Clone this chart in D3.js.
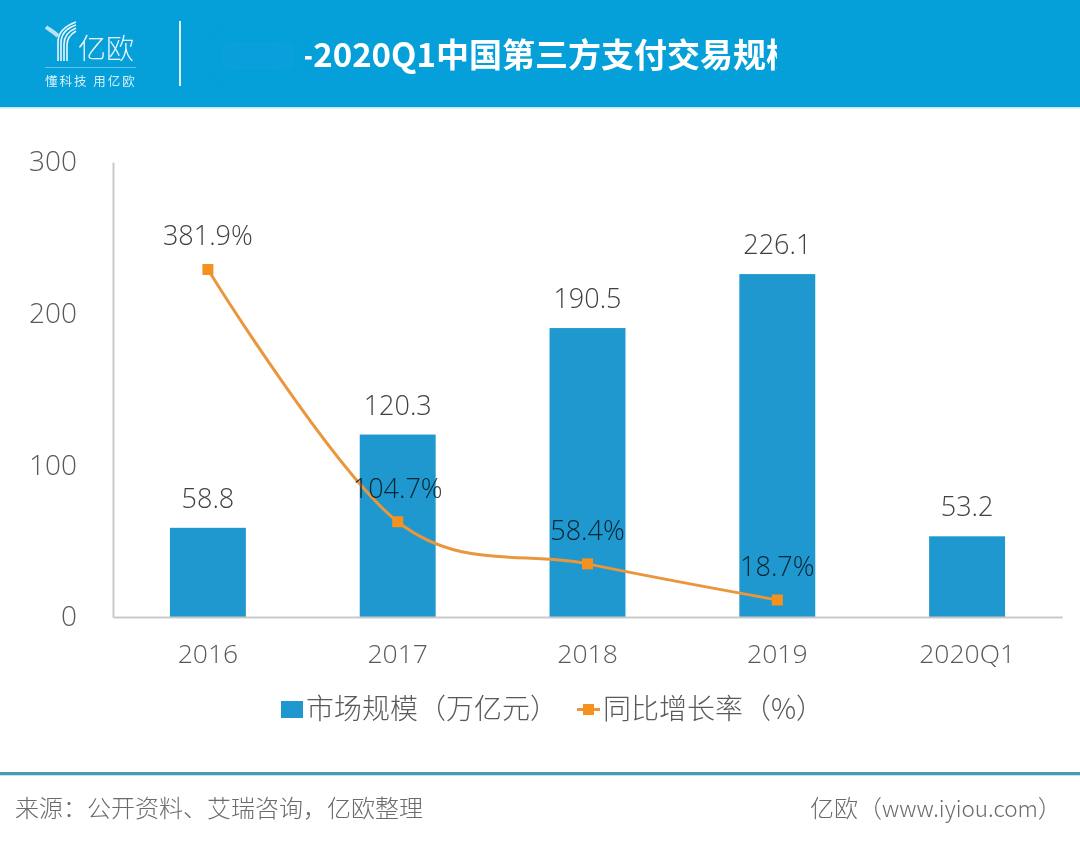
<!DOCTYPE html>
<html>
<head>
<meta charset="utf-8">
<script src="https://cdnjs.cloudflare.com/ajax/libs/d3/7.8.5/d3.min.js"></script>
<style>
html, body { margin: 0; padding: 0; background: #fff; }
svg { display: block; }
text { font-family: "Open Sans", "Noto Sans CJK SC", sans-serif; }
.cjk { font-family: "Noto Sans CJK SC", sans-serif; }
</style>
</head>
<body>
<script>
const years = ["2016", "2017", "2018", "2019", "2020Q1"];
const market = [58.8, 120.3, 190.5, 226.1, 53.2];
const growth = [381.9, 104.7, 58.4, 18.7];
const yTicks = [0, 100, 200, 300];
const legendBar = "市场规模（万亿元）";
const legendLine = "同比增长率（%）";

const width = 1080, height = 843;
const blue = "#1f97cf", orange = "#e9963c";

const svg = d3.select("body").append("svg")
  .attr("width", width)
  .attr("height", height);

const defs = svg.append("defs");
defs.append("clipPath").attr("id", "title-clip")
  .append("rect").attr("x", 305).attr("y", 20).attr("width", 472).attr("height", 70);
defs.append("filter").attr("id", "soft")
  .attr("x", "-30%").attr("y", "-60%").attr("width", "160%").attr("height", "220%")
  .append("feGaussianBlur").attr("stdDeviation", 8);

// header band
svg.append("rect").attr("width", width).attr("height", 107).attr("fill", "#05a0d9");
svg.append("rect").attr("y", 107).attr("width", width).attr("height", 1.5).attr("fill", "#bfeaf6");

// smudged part of the title
svg.append("rect").attr("x", 222).attr("y", 42).attr("width", 72).attr("height", 28)
  .attr("fill", "#0f9fdf").attr("opacity", 0.6).attr("filter", "url(#soft)");

// logo
const logo = svg.append("g").attr("fill", "none").attr("stroke", "#e8f6fb").attr("stroke-width", 1.6);
["M58 61V42C58 32 65 26 76 22", "M61 61V43C61 34 67 28 76 25", "M64 61V44C64 36 69 31 76 28", "M67 61V45C67 38 71 34 76 31"]
  .forEach(d => logo.append("path").attr("d", d));
logo.append("path").attr("d", "M46 27C50 30 54 32 58 36").attr("stroke", "#b9e3f3").attr("stroke-width", 4);
svg.append("text").attr("class", "cjk").attr("x", 78).attr("y", 59)
  .attr("font-size", 28).attr("font-weight", 300).attr("fill", "#e8f6fb").text("亿欧");
svg.append("line").attr("x1", 45).attr("x2", 136).attr("y1", 67.5).attr("y2", 67.5)
  .attr("stroke", "#5cc3e8");
svg.append("text").attr("class", "cjk").attr("x", 45).attr("y", 86)
  .attr("font-size", 12.5).attr("letter-spacing", 2).attr("fill", "#d5eff9").text("懂科技 用亿欧");
svg.append("line").attr("x1", 180).attr("x2", 180).attr("y1", 21).attr("y2", 86)
  .attr("stroke", "#d8f1fa").attr("stroke-width", 2);

// title, cut off on both sides as in the source image
svg.append("g").attr("clip-path", "url(#title-clip)")
  .append("text").attr("class", "cjk").attr("x", 301).attr("y", 67)
  .attr("font-size", 33).attr("font-weight", 700).attr("fill", "#fff")
  .text("-2020Q1中国第三方支付交易规模");

// scales
const x = d3.scaleBand().domain(years).range([113, 1062]).paddingInner(0.6).paddingOuter(0.3);
const y = d3.scaleLinear().domain([0, 300]).range([617, 162]);
const y2 = d3.scaleLinear().domain([0, 500]).range([617, 162]);

// bars
svg.selectAll(".bar")
  .data(market)
  .enter()
  .append("rect")
  .attr("class", "bar")
  .attr("x", (d, i) => x(years[i]))
  .attr("y", d => y(d))
  .attr("width", x.bandwidth())
  .attr("height", d => y(0) - y(d))
  .attr("fill", blue);

// axes
const yAxis = d3.axisLeft(y).tickValues(yTicks).tickSize(0).tickPadding(36);
const yG = svg.append("g").attr("transform", "translate(113,0)").call(yAxis);
const xAxis = d3.axisBottom(x).tickSize(0).tickPadding(27);
const xG = svg.append("g").attr("transform", "translate(0,617)").call(xAxis);
[yG, xG].forEach((g, i) => {
  g.selectAll(".domain").attr("stroke", "#c9c9c9").attr("stroke-width", 2);
  g.selectAll("text").attr("font-family", "'Open Sans'").attr("font-weight", 300)
    .attr("font-size", i ? 26.5 : 28).attr("fill", "#595959");
});

// growth line
const line = d3.line()
  .x((d, i) => x(years[i]) + x.bandwidth() / 2)
  .y(d => y2(d))
  .curve(d3.curveCatmullRom.alpha(0));
svg.append("path").attr("d", line(growth))
  .attr("fill", "none").attr("stroke", orange).attr("stroke-width", 3);
svg.selectAll(".pt")
  .data(growth)
  .enter()
  .append("rect")
  .attr("class", "pt")
  .attr("x", (d, i) => x(years[i]) + x.bandwidth() / 2 - 5.5)
  .attr("y", d => y2(d) - 5.5)
  .attr("width", 11)
  .attr("height", 11)
  .attr("fill", "#f5911e");

// data labels
svg.selectAll(".bar-label")
  .data(market)
  .enter()
  .append("text")
  .attr("class", "bar-label")
  .attr("x", (d, i) => x(years[i]) + x.bandwidth() / 2)
  .attr("y", d => y(d) - 20)
  .attr("text-anchor", "middle")
  .attr("font-size", 27).attr("font-weight", 300).attr("fill", "#404040")
  .text(d => d.toFixed(1));
svg.selectAll(".line-label")
  .data(growth)
  .enter()
  .append("text")
  .attr("class", "line-label")
  .attr("x", (d, i) => x(years[i]) + x.bandwidth() / 2)
  .attr("y", d => y2(d) - 24)
  .attr("text-anchor", "middle")
  .attr("font-size", 27).attr("font-weight", 300).attr("fill", "#404040")
  .style("mix-blend-mode", "multiply")
  .text(d => d.toFixed(1) + "%");

// legend
svg.append("rect").attr("x", 281).attr("y", 701).attr("width", 22).attr("height", 17).attr("fill", blue);
svg.append("text").attr("class", "cjk").attr("x", 306).attr("y", 719)
  .attr("font-size", 28).attr("font-weight", 300).attr("fill", "#595959").text(legendBar);
svg.append("line").attr("x1", 577).attr("x2", 600).attr("y1", 709.5).attr("y2", 709.5)
  .attr("stroke", orange).attr("stroke-width", 3);
svg.append("rect").attr("x", 583).attr("y", 704).attr("width", 11).attr("height", 11).attr("fill", "#f5911e");
svg.append("text").attr("class", "cjk").attr("x", 603).attr("y", 719)
  .attr("font-size", 28).attr("font-weight", 300).attr("fill", "#595959").text(legendLine);

// footer
svg.append("rect").attr("y", 772).attr("width", width).attr("height", 3).attr("fill", "#4b9bb0");
svg.append("rect").attr("y", 775).attr("width", width).attr("height", 1).attr("fill", "#bdeaf2");
svg.append("text").attr("class", "cjk").attr("x", 15).attr("y", 817)
  .attr("font-size", 24).attr("font-weight", 300).attr("fill", "#6b6b6b")
  .text("来源：公开资料、艾瑞咨询，亿欧整理");
const site = svg.append("text").attr("class", "cjk").attr("x", 810).attr("y", 817)
  .attr("font-size", 24).attr("font-weight", 300).attr("fill", "#6b6b6b");
site.append("tspan").text("亿欧（");
site.append("tspan").attr("font-size", 22.5).text("www.iyiou.com");
site.append("tspan").text("）");
</script>
</body>
</html>
